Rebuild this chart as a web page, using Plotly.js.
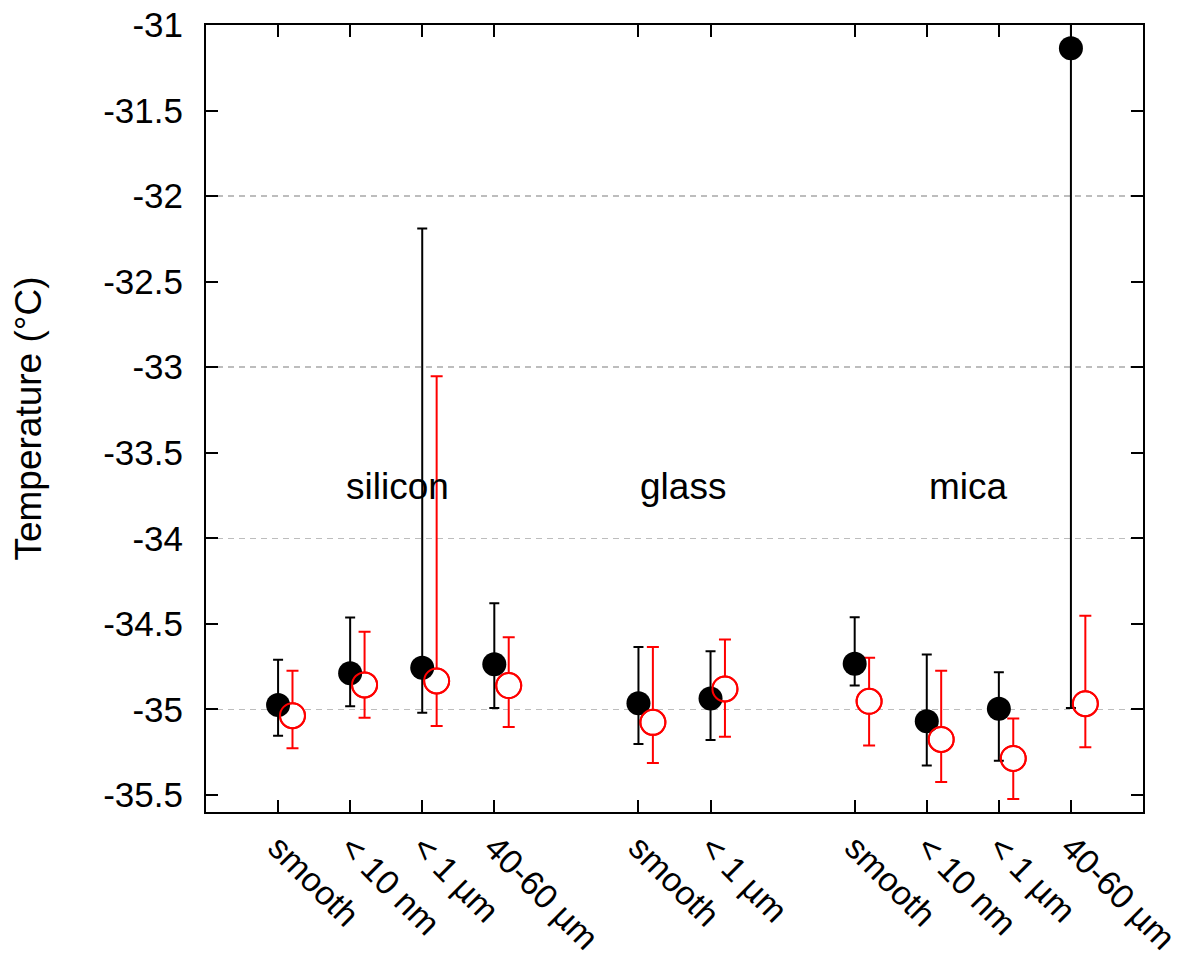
<!DOCTYPE html>
<html>
<head>
<meta charset="utf-8">
<script src="https://cdn.plot.ly/plotly-3.0.1.min.js"></script>
<style>html,body{margin:0;padding:0;background:#fff;}#chart{width:1195px;height:958px;}</style>
</head>
<body>
<div id="chart"></div>
<script>
// Category positions and tick labels
var positions = [1, 2, 3, 4, 6, 7, 9, 10, 11, 12];
var tickLabels = ["smooth", "< 10 nm", "< 1 µm", "40-60 µm", "smooth", "< 1 µm", "smooth", "< 10 nm", "< 1 µm", "40-60 µm"];
var yTickVals = [-35.5, -35, -34.5, -34, -33.5, -33, -32.5, -32, -31.5, -31];
var yTickLabels = ["-35.5", "-35", "-34.5", "-34", "-33.5", "-33", "-32.5", "-32", "-31.5", "-31"];
var groupNames = ["silicon", "glass", "mica"];
var groupLabelX = [1.91, 6.0, 10.01];
var groupLabelY = [-33.70, -33.70, -33.70];

// Black series (filled circles)
var blackValue = [-34.975, -34.789, -34.757, -34.737, -34.965, -34.936, -34.734, -35.07, -34.996, -31.136];
var blackHigh  = [-34.71, -34.463, -32.19, -34.38, -34.635, -34.661, -34.462, -34.68, -34.783, -30.9];
var blackLow   = [-35.155, -34.982, -35.02, -34.992, -35.202, -35.179, -34.861, -35.328, -35.3, -34.992];

// Red series (open circles)
var redValue = [-35.037, -34.857, -34.834, -34.861, -35.076, -34.881, -34.953, -35.176, -35.287, -34.967];
var redHigh  = [-34.775, -34.547, -33.053, -34.579, -34.635, -34.592, -34.699, -34.774, -35.054, -34.453];
var redLow   = [-35.228, -35.049, -35.097, -35.103, -35.314, -35.16, -35.212, -35.425, -35.524, -35.222];

var redOffset = 0.2;
var redX = positions.map(function (p) { return p + redOffset; });
function plus(v, h) { return v.map(function (x, i) { return h[i] - x; }); }
function minus(v, l) { return v.map(function (x, i) { return x - l[i]; }); }

var FONT = "Liberation Sans, Arial, Helvetica, sans-serif";

var traces = [
  { // red bars with white-filled circles (gap inside the circle)
    x: redX, y: redValue, type: "scatter", mode: "markers", showlegend: false, hoverinfo: "skip",
    marker: { symbol: "circle", size: 25, color: "#ffffff", line: { color: "#ff0000", width: 2 } },
    error_y: { type: "data", symmetric: false, array: plus(redValue, redHigh), arrayminus: minus(redValue, redLow),
               color: "#ff0000", thickness: 2, width: 6 }
  },
  { // black filled circles
    x: positions, y: blackValue, type: "scatter", mode: "markers", showlegend: false,
    marker: { symbol: "circle", size: 24, color: "#000000" },
    error_y: { type: "data", symmetric: false, array: plus(blackValue, blackHigh), arrayminus: minus(blackValue, blackLow),
               color: "#000000", thickness: 2, width: 5 }
  },
  { // red open circle outlines on top
    x: redX, y: redValue, type: "scatter", mode: "markers", showlegend: false, hoverinfo: "skip",
    marker: { symbol: "circle-open", size: 25, color: "#ff0000", line: { color: "#ff0000", width: 2 } }
  },
  { // carrier for the grid axis
    x: [null], y: [null], yaxis: "y2", type: "scatter", mode: "markers", showlegend: false, hoverinfo: "skip"
  }
];

var annotations = groupNames.map(function (n, i) {
  return { x: groupLabelX[i], y: groupLabelY[i], xref: "x", yref: "y", text: n, showarrow: false,
           xanchor: "left", yanchor: "middle", font: { family: FONT, size: 37, color: "#000" } };
});

var layout = {
  width: 1195, height: 958,
  margin: { l: 206, r: 52, t: 25, b: 146 },
  paper_bgcolor: "#ffffff", plot_bgcolor: "#ffffff",
  font: { family: FONT, size: 35, color: "#000" },
  showlegend: false,
  xaxis: {
    range: [0, 13], tickmode: "array", tickvals: positions, ticktext: tickLabels,
    tickangle: 45, ticks: "inside", ticklen: 12, tickwidth: 2, tickcolor: "#000",
    showline: true, linewidth: 2, linecolor: "#000", mirror: "ticks",
    showgrid: false, zeroline: false, automargin: false,
    tickfont: { family: FONT, size: 34, color: "#000" }
  },
  yaxis: {
    range: [-35.6, -31], tickmode: "array", tickvals: yTickVals, ticktext: yTickLabels,
    ticks: "inside", ticklen: 12, tickwidth: 2, tickcolor: "#000",
    showline: true, linewidth: 2, linecolor: "#000", mirror: "ticks",
    showgrid: false, zeroline: false, automargin: false, ticklabelstandoff: 14,
    tickfont: { family: FONT, size: 35, color: "#000" },
    title: { text: "Temperature (°C)", font: { family: FONT, size: 37, color: "#000" }, standoff: 50 }
  },
  yaxis2: {
    overlaying: "y", range: [-35.6, -31], dtick: 1, tick0: -31, showgrid: true,
    gridcolor: "#bdbdbd", gridwidth: 1.5, griddash: "6px,5px",
    showticklabels: false, ticks: "", showline: false, zeroline: false
  },
  annotations: annotations
};

Plotly.newPlot("chart", traces, layout, { displayModeBar: false, staticPlot: true });
</script>
</body>
</html>
